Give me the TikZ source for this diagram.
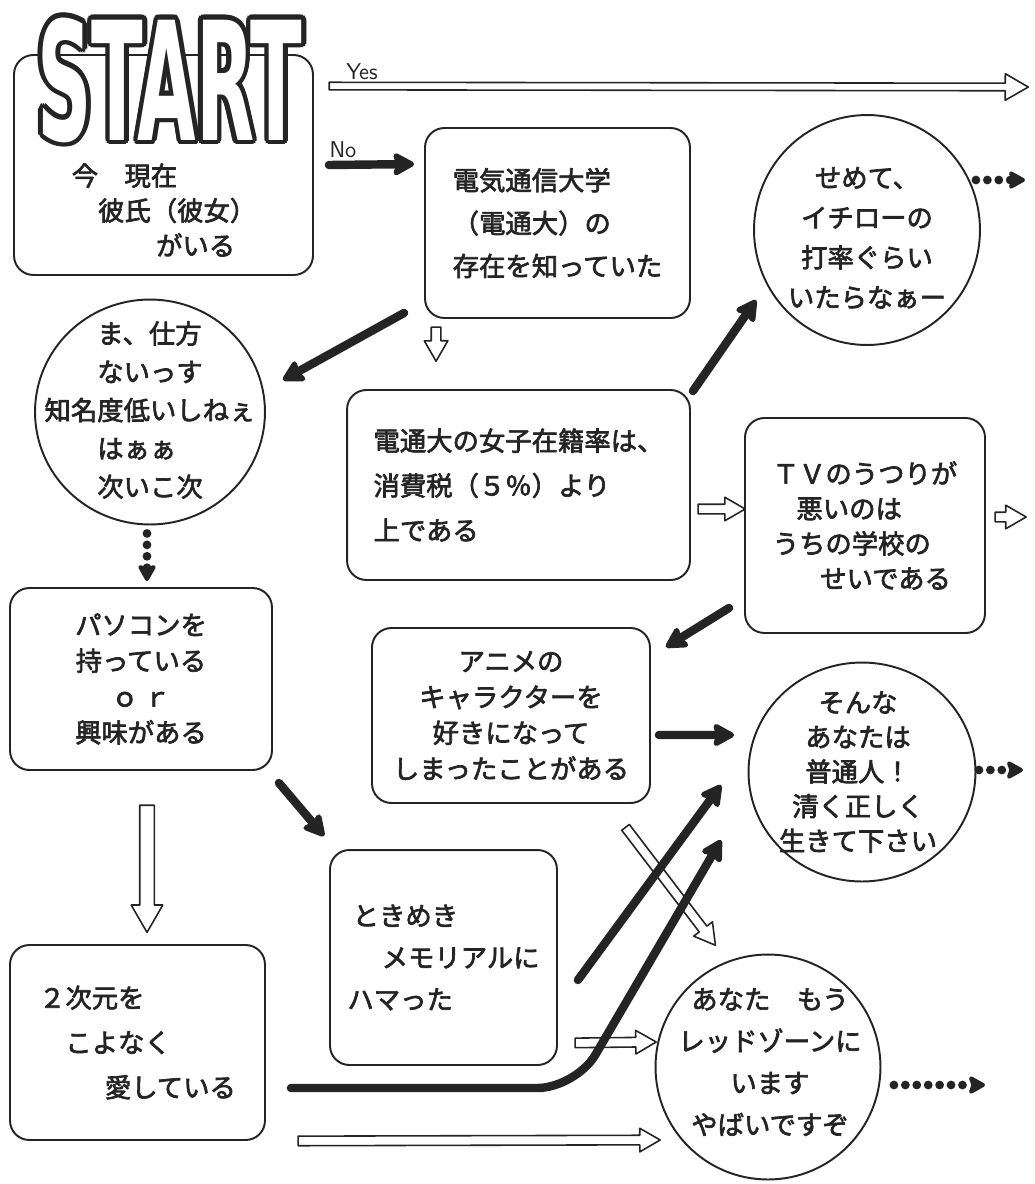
\documentclass[tikz,border=0pt]{standalone}
\usepackage{fontspec}
\newfontfamily\jpfont{Noto Sans CJK JP}[FakeBold=2.5]
\newfontfamily\startfont{DejaVu Sans}
\usetikzlibrary{arrows.meta,shapes.geometric,shapes.arrows,calc}
\definecolor{InkGray}{HTML}{242424}
\tikzset{
  box/.style={draw=InkGray,line width=1.1pt,rounded corners=11pt,align=left,text=InkGray},
  bubble/.style={draw=InkGray,line width=1.1pt,ellipse,inner sep=0pt},
  ink/.style={text=InkGray,align=center},
  jp/.style={font=\jpfont\fontsize{15}{#1}\selectfont},
  boldarrow/.style={InkGray,line width=4.8pt,line cap=round,-{Stealth[length=14pt,width=15pt,inset=2pt,round]}},
  dotarrow/.style={InkGray,line width=5pt,line cap=round,dash pattern=on 0pt off 6.5pt,-{Stealth[length=11pt,width=12pt,inset=2pt,round]}},
  hollowthin/.style={single arrow,draw=InkGray,line width=0.9pt,inner sep=0.06cm,single arrow tip angle=60,minimum width=0.5cm,single arrow head extend=0.19cm},
  hollowmid/.style={single arrow,draw=InkGray,line width=0.9pt,inner sep=0.08cm,single arrow tip angle=60,minimum width=0.44cm,single arrow head extend=0.14cm},
  hollowwide/.style={single arrow,draw=InkGray,line width=0.9pt,inner sep=0.13cm,single arrow tip angle=60,minimum width=0.6cm,single arrow head extend=0.17cm},
}
\newcommand\startword{\resizebox{5.3cm}{2.45cm}{\startfont\bfseries START}}
\newcommand\hollowarrow[3]{\path let \p1=($(#3)-(#2)$),\n1={veclen(\x1,\y1)} in (#2) -- (#3) node[#1,midway,sloped,allow upside down,minimum height=\n1] {};}

\begin{document}
\begin{tikzpicture}[x=0.02cm,y=-0.02cm,line cap=round,line join=round]
  \useasboundingbox (0,0) rectangle (1035,1184);
  \fill[white] (0,0) rectangle (1035,1184);

  \node[box,minimum width=5.98cm,minimum height=4.4cm] (startbox) at (163.5,165) {};
  \foreach \a [count=\k] in {0,22.5,...,337.5}
    \node[text=InkGray] (startrim\k) at ([shift={(\a:2.6pt)}]170,80) {\startword};
  \node[text=white] (startword) at (170,80) {\startword};
  \node[ink,jp=19.9,align=left] (startq) at (164,210) {今　現在\\\hspace*{1em}彼氏（彼女）\\\hspace*{3.2em}がいる};
  \node[text=InkGray,font=\sffamily\fontsize{13}{15}\selectfont] (yes) at (362,72) {Yes};
  \node[text=InkGray,font=\sffamily\fontsize{13}{15}\selectfont] (no) at (343,150) {No};

  \node[box,jp=24.4,minimum width=5.3cm,minimum height=3.8cm] (denki) at (557.5,223) {電気通信大学\\（電通大）の\\存在を知っていた};
  \node[bubble,minimum width=4.52cm,minimum height=4.6cm] (semete) at (867,230) {};
  \node[ink,jp=22.7] (semetetext) at (867,238) {せめて、\\イチローの\\打率ぐらい\\いたらなぁー};
  \node[bubble,minimum width=4.6cm,minimum height=4.5cm] (mashikata) at (150,412) {};
  \node[ink,jp=21.8,align=left] (mashikatatext) at (150,410) {\hspace*{2em}ま、仕方\\\hspace*{2em}ないっす\\知名度低いしねぇ\\\hspace*{2em}はぁぁ\\\hspace*{2em}次いこ次};
  \node[box,jp=25.5,minimum width=6.86cm,minimum height=3.8cm] (joshi) at (518.5,485) {電通大の女子在籍率は、\\消費税（５％）より\\上である};
  \node[box,jp=19.9,minimum width=4.8cm,minimum height=4.3cm] (tv) at (865,525.5) {ＴＶのうつりが\\\hspace*{0.9em}悪いのは\\うちの学校の\\\hspace*{1.8em}せいである};
  \node[box,align=center,jp=20.4,minimum width=5.24cm,minimum height=3.64cm] (pasokon) at (141,679) {パソコンを\\持っている\\ｏ ｒ\\興味がある};
  \node[box,align=center,jp=20.4,minimum width=5.56cm,minimum height=3.5cm] (anime) at (511,715.5) {アニメの\\キャラクターを\\好きになって\\しまったことがある};
  \node[bubble,minimum width=4.54cm,minimum height=4.38cm] (futsu) at (862,772) {};
  \node[ink,jp=19.7] (futsutext) at (858,772) {そんな\\あなたは\\普通人！\\清く正しく\\生きて下さい};
  \node[box,jp=23.8,minimum width=4.54cm,minimum height=4.3cm] (tokimeki) at (443.5,957.5) {\hspace*{0.2em}ときめき\\\hspace*{1.3em}メモリアルに\\ハマった};
  \node[box,jp=25.5,minimum width=5.1cm,minimum height=3.9cm] (nijigen) at (137.5,1042.5) {２次元を\\\hspace*{1em}こよなく\\\hspace*{2.5em}愛している};
  \node[bubble,minimum width=4.5cm,minimum height=4.5cm] (red) at (768,1067) {};
  \node[ink,jp=23.8] (redtext) at (770,1062) {あなた　もう\\レッドゾーンに\\います\\やばいですぞ};

  \coordinate (yesstart) at ([shift={(12,32)}]startbox.north east);
  \coordinate (yesend) at (1025,87);
  \coordinate (denkidown) at ([shift={(12,4)}]denki.south west);
  \coordinate (joshiin) at ([shift={(90,-32)}]joshi.north west);
  \coordinate (joshiout) at ([shift={(3,24)}]joshi.east);
  \coordinate (tvin) at ([shift={(-3,-16.5)}]tv.west);
  \coordinate (tvout) at ([shift={(5,-8.5)}]tv.east);
  \coordinate (tvgo) at (1022,517);
  \coordinate (animeout) at ([shift={(-28,20)}]anime.south east);
  \coordinate (redtop) at ([shift={(-55,-11.5)}]red.north);
  \coordinate (pasokonout) at ([shift={(6,28)}]pasokon.south);
  \coordinate (nijigenin) at ([shift={(9.5,-18)}]nijigen.north);
  \coordinate (tokimekiout) at ([shift={(13,-23)}]tokimeki.south east);
  \coordinate (redleft) at ([shift={(-2.5,-25)}]red.west);
  \coordinate (nijigenout) at ([shift={(28,0)}]nijigen.south east);
  \coordinate (redlow) at ([shift={(1.5,73)}]red.west);
  \coordinate (semetego) at (1025,180);
  \coordinate (futsugo) at (1023,770);
  \coordinate (redgo) at (985,1085);

  \hollowarrow{hollowthin}{yesstart}{yesend}
  \hollowarrow{hollowmid}{denkidown}{joshiin}
  \hollowarrow{hollowmid}{joshiout}{tvin}
  \hollowarrow{hollowmid}{tvout}{tvgo}
  \hollowarrow{hollowmid}{animeout}{redtop}
  \hollowarrow{hollowwide}{pasokonout}{nijigenin}
  \hollowarrow{hollowmid}{tokimekiout}{redleft}
  \hollowarrow{hollowmid}{nijigenout}{redlow}

  \draw[boldarrow] ([shift={(15,0)}]startbox.east) -- ([shift={(-10,37)}]denki.north west);
  \draw[boldarrow] ([shift={(-20,-6)}]denki.south west) -- ([shift={(17,-32)}]mashikata.east);
  \draw[boldarrow] ([shift={(2,2)}]joshi.north east) -- ([shift={(3,70)}]semete.west);
  \draw[boldarrow] ([shift={(-15,-26)}]tv.south west) -- ([shift={(15,20)}]anime.north east);
  \draw[boldarrow] ([shift={(8,19.5)}]anime.east) -- ([shift={(-13.5,-37)}]futsu.west);
  \draw[boldarrow] ([shift={(6,12)}]pasokon.south east) -- ([shift={(-5,-13)}]tokimeki.north west);
  \draw[boldarrow] ([shift={(20,22.5)}]tokimeki.east) -- ([shift={(-26.5,13)}]futsu.west);
  \draw[boldarrow,rounded corners=22pt] ([shift={(25,45.5)}]nijigen.east) -- ++(285,0) -- ([shift={(-26.5,68)}]futsu.west);

  \draw[dotarrow] ([shift={(-5,-50)}]semete.east) -- (semetego);
  \draw[dotarrow] ([shift={(2.5,-2)}]futsu.east) -- (futsugo);
  \draw[dotarrow] ([shift={(12.5,18)}]red.east) -- (redgo);
  \draw[dotarrow] ([shift={(-3,8)}]mashikata.south) -- ([shift={(6,-6)}]pasokon.north);
\end{tikzpicture}
\end{document}
